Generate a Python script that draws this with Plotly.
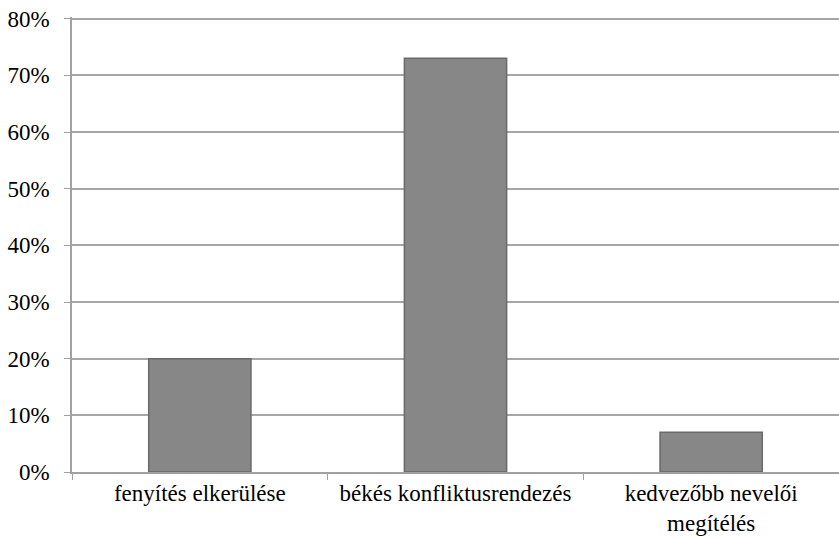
import plotly.graph_objects as go

categories = ["fenyítés elkerülése", "békés konfliktusrendezés", "kedvezőbb nevelői<br>megítélés"]
values = [20, 73, 7]
y_ticks = [0, 10, 20, 30, 40, 50, 60, 70, 80]
y_tick_labels = ["0%", "10%", "20%", "30%", "40%", "50%", "60%", "70%", "80%"]

fig = go.Figure()
fig.add_trace(go.Bar(
    x=categories, y=values,
    marker=dict(color="#878787", line=dict(color="#6a6a6a", width=1.5)),
    width=0.4,
))

font = dict(family="Liberation Serif", size=23, color="#000000")
fig.update_layout(
    width=839, height=540,
    margin=dict(l=72, r=0, t=17, b=68, autoexpand=False),
    paper_bgcolor="white", plot_bgcolor="white",
    showlegend=False,
    font=font,
    xaxis=dict(
        showline=True, linecolor="#a0a0a0", linewidth=1.5,
        ticks="outside", tickson="boundaries", ticklen=6, tickcolor="#a0a0a0",
        showgrid=False, tickfont=font, automargin=False,
    ),
    yaxis=dict(
        range=[0, 80.3], tickvals=y_ticks, ticktext=y_tick_labels,
        showline=True, linecolor="#a0a0a0", linewidth=1.5,
        ticks="outside", ticklen=6, tickcolor="#a0a0a0",
        showgrid=True, gridcolor="#a6a6a6", gridwidth=1.5,
        zeroline=False, tickfont=font, automargin=False,
        ticklabeloverflow="allow", ticklabelstandoff=10,
    ),
)
fig.write_html(
    "out.html",
    config={"displayModeBar": False},
    post_script="document.body.style.margin='0';document.body.style.overflow='hidden';",
)
